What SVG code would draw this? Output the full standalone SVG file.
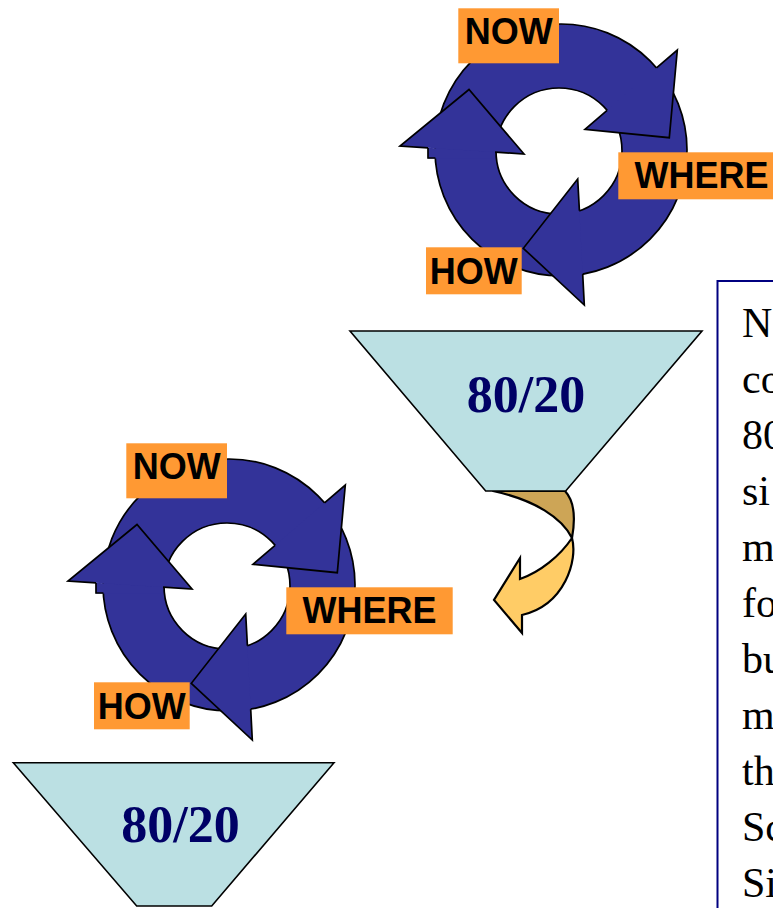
<svg xmlns="http://www.w3.org/2000/svg" xmlns:xlink="http://www.w3.org/1999/xlink" width="773" height="908" viewBox="0 0 773 908">
  <style>
    .ring { fill: #333399; stroke: #000; stroke-width: 1.7; fill-rule: evenodd; }
    .head { fill: #333399; stroke: none; }
    .edge { fill: none; stroke: #000; stroke-width: 1.7; stroke-linejoin: miter; }
    .tag { fill: #FF9933; }
    .tag-text { font-family: "Liberation Sans", Arial, sans-serif; font-weight: bold; font-size: 36px; fill: #000; text-anchor: middle; }
    .funnel { fill: #BBE0E3; stroke: #000; stroke-width: 1.6; stroke-linejoin: miter; }
    .ratio { font-family: "Liberation Serif", "Times New Roman", serif; font-weight: bold; font-size: 52px; fill: #000066; text-anchor: middle; }
    .note-frame { fill: #fff; stroke: #000080; stroke-width: 2; }
    .note { font-family: "Liberation Serif", "Times New Roman", serif; font-size: 42px; fill: #000; }
    .twist-back { fill: #CDA556; stroke: #000; stroke-width: 2.2; stroke-linejoin: round; }
    .twist-front { fill: #FFCC66; stroke: #000; stroke-width: 2.2; stroke-linejoin: miter; }
  </style>

  <defs>
    <!-- three-arrow cycle: a ring with three straight arrowheads laid on top -->
    <g id="cycle-arrows">
      <path class="ring" d="M 435,150 A 126 126 0 1 0 687,150 A 126 126 0 1 0 435,150 Z M 496,151 A 63 63 0 1 0 622,151 A 63 63 0 1 0 496,151 Z"/>
      <!-- head pointing down (right side) -->
      <polygon class="head" points="677.3,50 669.3,137.7 585,129.3"/>
      <polyline class="edge" points="656.5,67.8 677.3,50 669.3,137.7 585,129.3 607.1,110.3"/>
      <!-- head pointing left (bottom) -->
      <polygon class="head" points="584.3,305 523.3,248.3 577.7,179"/>
      <polyline class="edge" points="582.7,274.1 584.3,305 523.3,248.3 577.7,179 579.4,210.6"/>
      <!-- head pointing up (left side), with its short neck -->
      <polygon class="head" points="428,147.8 495,152.1 495,158.5 428,158.5"/>
      <polyline class="edge" points="435.4,158 428,158 428,147.8"/>
      <polygon class="head" points="400,146 469,89.5 524,154"/>
      <polyline class="edge" points="428,147.8 400,146 469,89.5 524,154 495,152.1"/>
    </g>
  </defs>

  <!-- upper cycle -->
  <g id="cycle-top">
    <use xlink:href="#cycle-arrows" href="#cycle-arrows"/>
    <g id="cycle-top-now">
      <rect class="tag" x="458.3" y="8.3" width="100.7" height="55"/>
      <text class="tag-text" x="508.7" y="44.3">NOW</text>
    </g>
    <g id="cycle-top-where">
      <rect class="tag" x="618.3" y="152.3" width="166.4" height="47"/>
      <text class="tag-text" x="701.5" y="187.5">WHERE</text>
    </g>
    <g id="cycle-top-how">
      <rect class="tag" x="426" y="247.3" width="95.7" height="47"/>
      <text class="tag-text" x="473.8" y="283.5">HOW</text>
    </g>
  </g>

  <!-- lower cycle: same layout, shifted down-left -->
  <g id="cycle-bottom" transform="translate(-332,435)">
    <use xlink:href="#cycle-arrows" href="#cycle-arrows"/>
    <g id="cycle-bottom-now">
      <rect class="tag" x="458.3" y="8.3" width="100.7" height="55"/>
      <text class="tag-text" x="508.7" y="44.3">NOW</text>
    </g>
    <g id="cycle-bottom-where">
      <rect class="tag" x="618.3" y="152.3" width="166.4" height="47"/>
      <text class="tag-text" x="701.5" y="187.5">WHERE</text>
    </g>
    <g id="cycle-bottom-how">
      <rect class="tag" x="426" y="247.3" width="95.7" height="47"/>
      <text class="tag-text" x="473.8" y="283.5">HOW</text>
    </g>
  </g>

  <!-- twisted arrow leading from the upper funnel back to the lower cycle -->
  <g id="connectors">
    <path class="twist-back" d="M 493,491 L 565,491 Q 578,505 572,538 C 562,518 535,500 493,491 Z"/>
    <path class="twist-front" d="M 572,538 C 578,560 565,605 522,615 L 522,633 L 494,600 L 520,558 L 520,579 C 540,572 560,556 572,538 Z"/>
  </g>

  <!-- upper funnel -->
  <g id="funnel-top">
    <polygon class="funnel" points="350,331 702,331 565.7,491 485.7,491"/>
    <text class="ratio" x="526" y="412">80/20</text>
  </g>

  <!-- lower funnel -->
  <g id="funnel-bottom">
    <polygon class="funnel" points="13.3,762.7 334,762.7 211.7,906 136.7,906"/>
    <text class="ratio" x="180.5" y="842">80/20</text>
  </g>

  <!-- side note, running past the right edge -->
  <g id="note">
    <rect class="note-frame" x="717.5" y="281" width="120" height="700"/>
    <text class="note" x="742" y="337">N</text>
    <text class="note" x="742" y="393">co</text>
    <text class="note" x="742" y="449">80</text>
    <text class="note" x="742" y="505">si</text>
    <text class="note" x="742" y="561">m</text>
    <text class="note" x="742" y="617">fo</text>
    <text class="note" x="742" y="673">bu</text>
    <text class="note" x="742" y="729">m</text>
    <text class="note" x="742" y="785">th</text>
    <text class="note" x="742" y="841">Sc</text>
    <text class="note" x="742" y="897">Si</text>
  </g>
</svg>
